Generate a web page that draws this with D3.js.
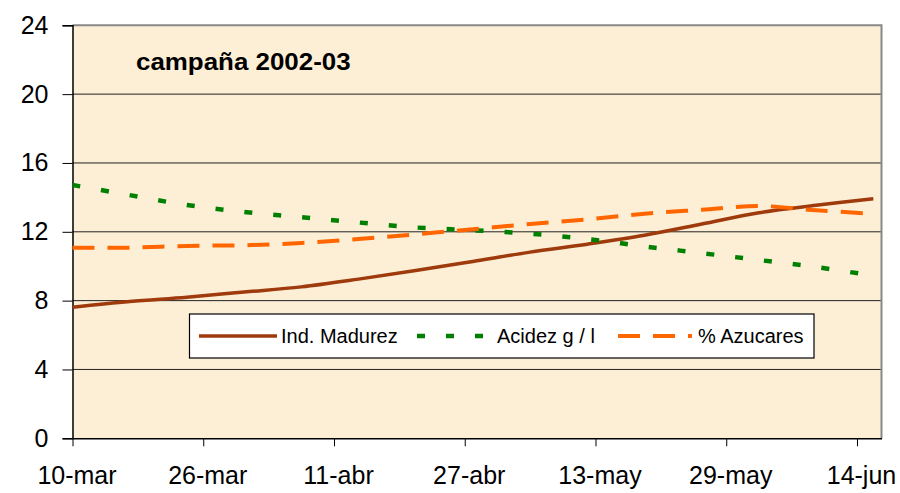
<!DOCTYPE html>
<html>
<head>
<meta charset="utf-8">
<script src="https://cdn.jsdelivr.net/npm/d3@7"></script>
<style>
  body { margin: 0; background: #fff; }
  text { font-family: 'Liberation Sans', Arial, sans-serif; }
</style>
</head>
<body>
<script>
// weekly samples, campaign 2002-03
var sampleDates = ['10-03','17-03','24-03','31-03','07-04','14-04','21-04','28-04',
  '05-05','12-05','19-05','26-05','02-06','09-06','16-06'];
var madurez = [7.62, 7.95, 8.2, 8.5, 8.8, 9.25, 9.75, 10.28, 10.82, 11.28, 11.8, 12.45, 13.11, 13.54, 13.92];
var acidez = [14.72, 14.13, 13.56, 13.15, 12.85, 12.54, 12.25, 12.09, 11.89, 11.58, 11.15, 10.76, 10.36, 9.95, 9.45];
var azucares = [11.08, 11.08, 11.18, 11.22, 11.35, 11.58, 11.85, 12.15, 12.45, 12.72, 13.05, 13.28, 13.5, 13.25, 13.05];

var xTickDates = ['10-03','26-03','11-04','27-04','13-05','29-05','14-06'];
var xTickLabels = ['10-mar','26-mar','11-abr','27-abr','13-may','29-may','14-jun'];
var yTicks = [0, 4, 8, 12, 16, 20, 24];

var seriesNames = ['Ind. Madurez', 'Acidez g / l', '% Azucares'];

var width = 900, height = 493;
var plotLeft = 72.5, plotRight = 881.5, plotTop = 25.3, plotBottom = 438.3;

var parseDay = d3.timeParse('%d-%m-%Y');
function toDate(s) { return parseDay(s + '-2003'); }

var x = d3.scaleTime()
  .domain([toDate('10-03'), toDate('17-06')])
  .range([plotLeft, plotRight]);

var y = d3.scaleLinear()
  .domain([0, 24])
  .range([plotBottom, plotTop]);

var svg = d3.select('body').append('svg')
  .attr('width', width)
  .attr('height', height);

// plot background
svg.append('rect')
  .attr('x', plotLeft)
  .attr('y', plotTop)
  .attr('width', plotRight - plotLeft)
  .attr('height', plotBottom - plotTop)
  .attr('fill', '#fdefd6');

// gridlines
svg.append('g').selectAll('line')
  .data(yTicks.slice(1, -1))
  .enter().append('line')
  .attr('x1', plotLeft)
  .attr('x2', plotRight)
  .attr('y1', function(d) { return y(d); })
  .attr('y2', function(d) { return y(d); })
  .attr('stroke', '#222')
  .attr('stroke-width', 1);

// grey frame top/right
svg.append('path')
  .attr('d', 'M' + plotLeft + ',' + plotTop + 'H' + plotRight + 'V' + plotBottom)
  .attr('fill', 'none')
  .attr('stroke', '#888')
  .attr('stroke-width', 2);

var yAxis = d3.axisLeft(y)
  .tickValues(yTicks)
  .tickSize(10)
  .tickPadding(14);

var yG = svg.append('g')
  .attr('transform', 'translate(' + plotLeft + ',0)')
  .call(yAxis);
yG.select('.domain').attr('stroke', '#000').attr('stroke-width', 1.5);
yG.selectAll('.tick line').attr('stroke', '#000');
yG.selectAll('.tick text')
  .attr('font-size', 25)
  .attr('font-family', 'Liberation Sans, Arial, sans-serif')
  .attr('fill', '#000');

var xAxis = d3.axisBottom(x)
  .tickValues(xTickDates.map(toDate))
  .tickFormat(function(d, i) { return xTickLabels[i]; })
  .tickSize(8)
  .tickSizeOuter(0)
  .tickPadding(20);

var xG = svg.append('g')
  .attr('transform', 'translate(0,' + plotBottom + ')')
  .call(xAxis);
xG.select('.domain').attr('stroke', '#000').attr('stroke-width', 1.5);
xG.selectAll('.tick line').attr('stroke', '#000');
xG.selectAll('.tick text')
  .attr('font-size', 25)
  .attr('dx', 4)
  .attr('font-family', 'Liberation Sans, Arial, sans-serif')
  .attr('fill', '#000');

var series = [
  {name: seriesNames[0], values: madurez, color: '#9e3a0c', width: 3.5, dash: null},
  {name: seriesNames[1], values: acidez, color: '#008000', width: 4.5, dash: '8,21'},
  {name: seriesNames[2], values: azucares, color: '#ff6600', width: 4, dash: '22,13'}
];

var line = d3.line()
  .x(function(d) { return x(d.date); })
  .y(function(d) { return y(d.value); })
  .curve(d3.curveCatmullRom.alpha(0.5));

svg.append('g').selectAll('path')
  .data(series)
  .enter().append('path')
  .attr('d', function(s) {
    return line(s.values.map(function(v, i) { return {date: toDate(sampleDates[i]), value: v}; }));
  })
  .attr('fill', 'none')
  .attr('stroke', function(s) { return s.color; })
  .attr('stroke-width', function(s) { return s.width; })
  .attr('stroke-dasharray', function(s) { return s.dash; });

// title inside plot
svg.append('text')
  .attr('transform', 'translate(136,70) scale(1.08,1)')
  .attr('font-size', 24)
  .attr('font-weight', 'bold')
  .attr('fill', '#000')
  .text('campaña 2002-03');

// legend
var legend = svg.append('g');
legend.append('rect')
  .attr('x', 189.5)
  .attr('y', 314)
  .attr('width', 624.5)
  .attr('height', 44)
  .attr('fill', '#fff')
  .attr('stroke', '#000')
  .attr('stroke-width', 1.2);

var legendItems = [
  {x1: 199, x2: 277, tx: 281},
  {x1: 417, x2: 492, tx: 497},
  {x1: 618, x2: 692, tx: 698}
];

legend.selectAll('line')
  .data(series)
  .enter().append('line')
  .attr('x1', function(s, i) { return legendItems[i].x1; })
  .attr('x2', function(s, i) { return legendItems[i].x2; })
  .attr('y1', 336)
  .attr('y2', 336)
  .attr('stroke', function(s) { return s.color; })
  .attr('stroke-width', function(s) { return s.width; })
  .attr('stroke-dasharray', function(s) { return s.dash; });

legend.selectAll('text')
  .data(series)
  .enter().append('text')
  .attr('x', function(s, i) { return legendItems[i].tx; })
  .attr('y', 343)
  .attr('font-size', 20)
  .attr('fill', '#000')
  .text(function(s) { return s.name; });
</script>
</body>
</html>
